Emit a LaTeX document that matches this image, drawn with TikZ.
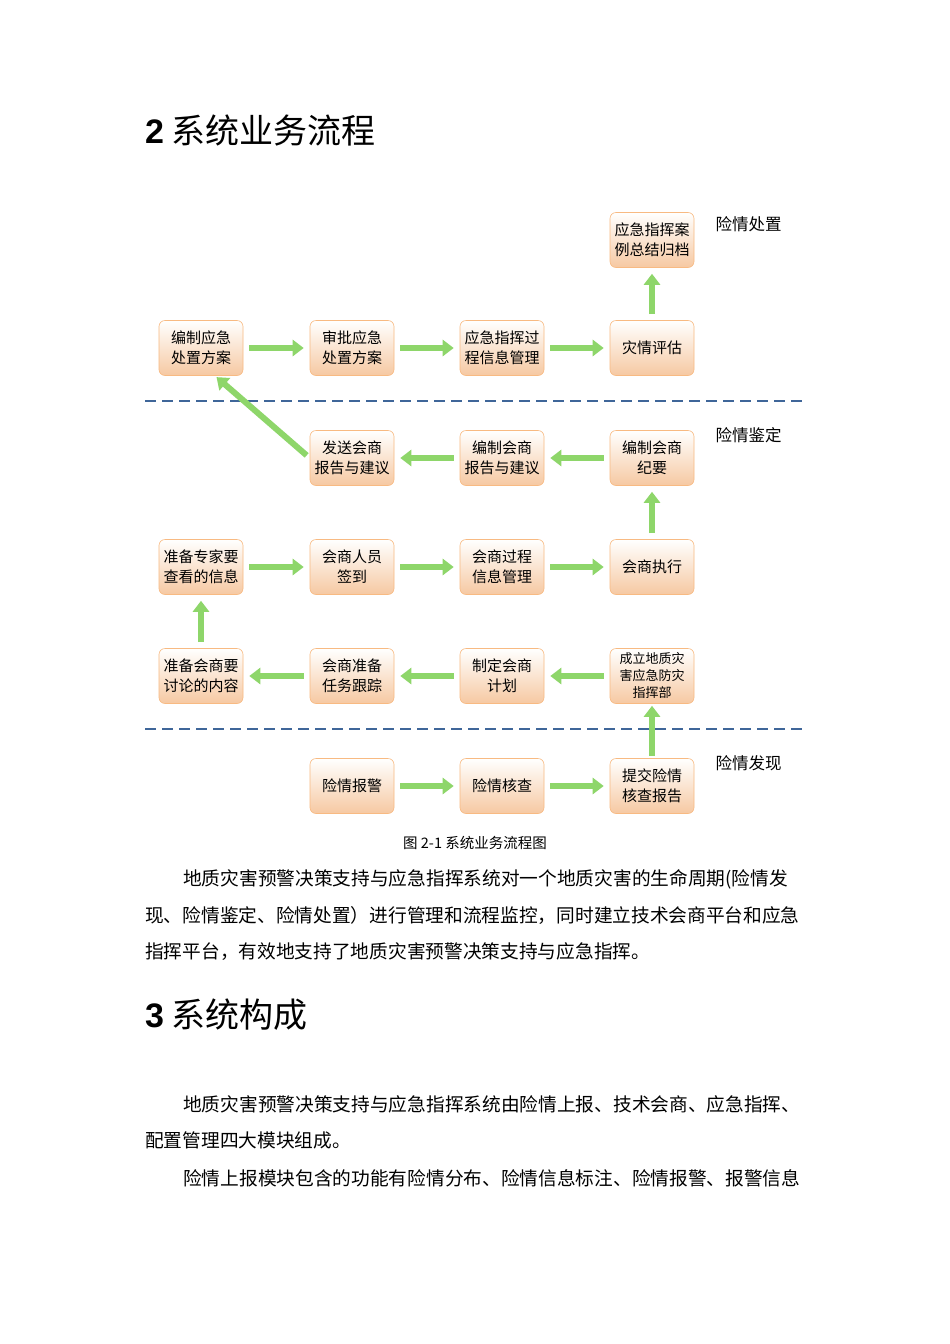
\documentclass[tikz,border=0pt]{standalone}
\usepackage{fontspec}
\setmainfont{Noto Sans CJK SC}
\newfontfamily\cjk{Noto Sans CJK SC}
\newfontfamily\hd{Liberation Sans}
\usetikzlibrary{arrows.meta}
\definecolor{arrg}{HTML}{8ED66A}
\definecolor{peach}{HTML}{F6C9A2}
\begin{document}
\begin{tikzpicture}[x=1pt,y=-1pt,
  box/.style={rounded corners=6pt,draw=peach!80!orange,line width=0.6pt,top color=white,bottom color=peach,minimum width=84pt,minimum height=55pt,align=center,font=\fontsize{15}{20}\selectfont,inner sep=1pt},
  garr/.style={line width=6pt,-{Triangle[width=16pt,length=11pt]},color=arrg, shorten <=6pt, shorten >=6pt},
  sep/.style={draw=cyan!50!blue!70!black,dashed,dash pattern=on 11pt off 6pt,line width=1.2pt},
  lab/.style={anchor=west,font=\fontsize{16.5}{18}\selectfont},
  para/.style={anchor=west,font=\fontsize{18.7}{20}\selectfont,inner sep=0pt}]
\useasboundingbox[fill=white] (0,0) rectangle (950,1344);
\node[anchor=west,font=\fontsize{34}{36}\selectfont,inner sep=0pt] (h2) at (145,130) {{\hd\bfseries 2} 系统业务流程};
% row 0
\node[box] (a1) at (652,240) {应急指挥案\\例总结归档};
% row 1
\node[box] (b1) at (201,348) {编制应急\\处置方案};
\node[box] (b2) at (352,348) {审批应急\\处置方案};
\node[box] (b3) at (502,348) {应急指挥过\\程信息管理};
\node[box] (b4) at (652,348) {灾情评估};
% row 2
\node[box] (c2) at (352,458) {发送会商\\报告与建议};
\node[box] (c3) at (502,458) {编制会商\\报告与建议};
\node[box] (c4) at (652,458) {编制会商\\纪要};
% row 3
\node[box] (d1) at (201,567) {准备专家要\\查看的信息};
\node[box] (d2) at (352,567) {会商人员\\签到};
\node[box] (d3) at (502,567) {会商过程\\信息管理};
\node[box] (d4) at (652,567) {会商执行};
% row 4
\node[box] (e1) at (201,676) {准备会商要\\讨论的内容};
\node[box] (e2) at (352,676) {会商准备\\任务跟踪};
\node[box] (e3) at (502,676) {制定会商\\计划};
\node[box,font=\fontsize{13}{17}\selectfont] (e4) at (652,676) {成立地质灾\\害应急防灾\\指挥部};
% row 5
\node[box] (f2) at (352,786) {险情报警};
\node[box] (f3) at (502,786) {险情核查};
\node[box] (f4) at (652,786) {提交险情\\核查报告};
% separators
\coordinate (s1a) at (145,401); \coordinate (s1b) at (802,401);
\coordinate (s2a) at (145,729); \coordinate (s2b) at (802,729);
\draw[sep] (s1a) -- (s1b);
\draw[sep] (s2a) -- (s2b);
\node[lab] (l1) at (712,224) {险情处置};
\node[lab] (l2) at (712,435) {险情鉴定};
\node[lab] (l3) at (712,763) {险情发现};
% arrows
\draw[garr] (b1) -- (b2);
\draw[garr] (b2) -- (b3);
\draw[garr] (b3) -- (b4);
\draw[garr] (b4) -- (a1);
\draw[garr] (c4) -- (c3);
\draw[garr] (c3) -- (c2);
\draw[garr,shorten <=4pt,shorten >=2pt] (c2.west) -- ([xshift=14pt]b1.south);
\draw[garr] (d4) -- (c4);
\draw[garr] (d1) -- (d2);
\draw[garr] (d2) -- (d3);
\draw[garr] (d3) -- (d4);
\draw[garr] (e1) -- (d1);
\draw[garr] (e4) -- (e3);
\draw[garr] (e3) -- (e2);
\draw[garr] (e2) -- (e1);
\draw[garr,shorten <=2pt,shorten >=2pt] (f4) -- (e4);
\draw[garr] (f2) -- (f3);
\draw[garr] (f3) -- (f4);
% caption and text
\node[font=\fontsize{14.5}{16}\selectfont] (cap) at (475,843) {图 2-1 系统业务流程图};
\node[para] (p1) at (183,879) {地质灾害预警决策支持与应急指挥系统对一个地质灾害的生命周期(险情发};
\node[para] (p2) at (145,915) {现、险情鉴定、险情处置）进行管理和流程监控，同时建立技术会商平台和应急};
\node[para] (p3) at (145,952) {指挥平台，有效地支持了地质灾害预警决策支持与应急指挥。};
\node[anchor=west,font=\fontsize{34}{36}\selectfont,inner sep=0pt] (h3) at (145,1015) {{\hd\bfseries 3} 系统构成};
\node[para] (q1) at (183,1104) {地质灾害预警决策支持与应急指挥系统由险情上报、技术会商、应急指挥、};
\node[para] (q2) at (145,1140) {配置管理四大模块组成。};
\node[para] (q3) at (183,1178) {险情上报模块包含的功能有险情分布、险情信息标注、险情报警、报警信息};
\end{tikzpicture}
\end{document}
